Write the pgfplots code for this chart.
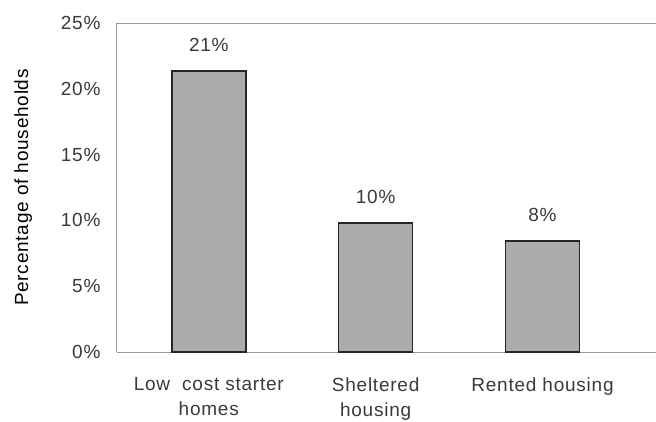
\documentclass[border=0pt]{standalone}
\usepackage{pgfplots}
\pgfplotsset{compat=1.18}
\usepackage{fontspec}
\setmainfont{Liberation Sans}[LetterSpace=4]
\definecolor{txt}{HTML}{3A3A3A}
\definecolor{barfill}{HTML}{ABABAB}
\definecolor{axisgray}{HTML}{9A9A9A}
\begin{document}
\fontsize{19}{23}\selectfont
\begin{tikzpicture}
\begin{axis}[
  at={(0,0)}, anchor=south west,
  scale only axis, width=539pt, height=329pt,
  xmin=-0.55, xmax=2.68,
  ymin=0, ymax=25,
  ytick={0,5,10,15,20,25},
  yticklabel={\pgfmathprintnumber{\tick}\%},
  /pgf/number format/assume math mode=true,
  xtick={0,1,2},
  xticklabels={{Low\ \ cost starter\\homes},{Sheltered\\housing},{Rented housing}},
  xticklabel style={align=center, font=\fontsize{19}{25}\selectfont, text=txt, yshift=-19pt},
  yticklabel style={text=txt, xshift=-10pt, font=\fontsize{19}{23}\selectfont},
  major tick length=0pt,
  axis x line*=box, axis y line*=left,
  axis line style={axisgray, line width=1pt},
  ylabel={Percentage of households},
  ylabel style={text=txt, font=\fontsize{19}{23}\selectfont},
  every axis y label/.style={at={(axis description cs:-0.174,0.5)}, rotate=90, anchor=center},
  ybar, bar width=74pt,
  nodes near coords={\pgfmathprintnumber[fixed,precision=0]{\pgfplotspointmeta}\%},
  nodes near coords style={text=txt, yshift=12pt, font=\fontsize{19}{23}\selectfont},
  clip=false,
]
\addplot[fill=barfill, draw=black!85, line width=1.6pt] coordinates {(0,21.35) (1,9.8) (2,8.45)};
\end{axis}
\pgfresetboundingbox
\path[use as bounding box] (-117pt,-69pt) rectangle (539pt,352pt);
\end{tikzpicture}
\end{document}
